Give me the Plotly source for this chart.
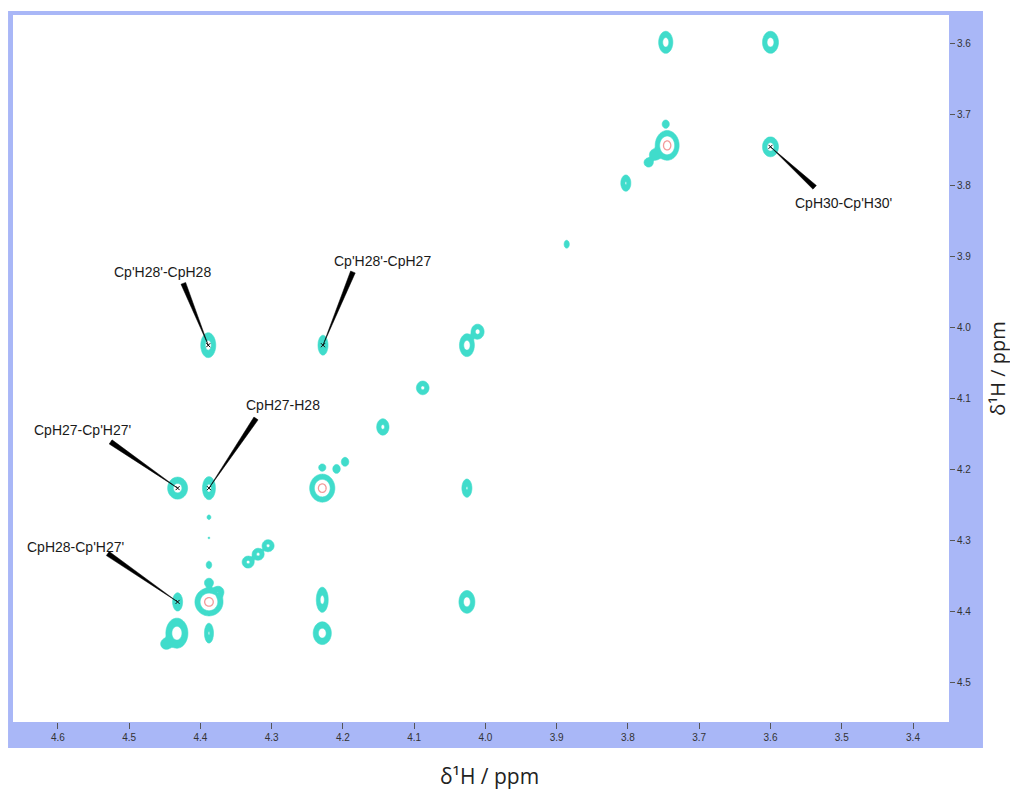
import numpy as np
import plotly.graph_objects as go

# ---------------- data (ppm) ----------------
# 2D cross/diagonal peaks: position (F2 = x, F1 = y), widths, intensity
peak_x = [3.747, 3.600, 3.745, 3.762, 3.771, 3.747, 3.600, 3.803, 3.886,
          4.026, 4.011, 4.088, 4.144,
          4.389, 4.228,
          4.432, 4.388, 4.229, 4.209, 4.197, 4.229, 4.026,
          4.388, 4.388, 4.388,
          4.333, 4.319, 4.305,
          4.432, 4.388, 4.388, 4.375, 4.229, 4.026,
          4.433, 4.448, 4.388, 4.229]
peak_y = [3.599, 3.599, 3.744, 3.757, 3.768, 3.714, 3.746, 3.797, 3.883,
          4.025, 4.006, 4.085, 4.140,
          4.025, 4.025,
          4.226, 4.226, 4.226, 4.199, 4.189, 4.197, 4.226,
          4.267, 4.296, 4.334,
          4.330, 4.319, 4.307,
          4.386, 4.386, 4.359, 4.372, 4.383, 4.386,
          4.430, 4.445, 4.430, 4.430]
peak_sx = [0.0039, 0.0044, 0.0057, 0.0035, 0.0030, 0.0025, 0.0044, 0.0030, 0.0020,
           0.0041, 0.0037, 0.0037, 0.0036,
           0.0042, 0.0030,
           0.0055, 0.0037, 0.0060, 0.0025, 0.0025, 0.0025, 0.0030,
           0.0018, 0.0015, 0.0022,
           0.0035, 0.0035, 0.0035,
           0.0030, 0.0067, 0.0030, 0.0035, 0.0034, 0.0044,
           0.0060, 0.0035, 0.0027, 0.0050]
peak_sy = [0.0061, 0.0061, 0.0071, 0.0035, 0.0030, 0.0028, 0.0055, 0.0049, 0.0031,
           0.0063, 0.0043, 0.0040, 0.0048,
           0.0070, 0.0060,
           0.0061, 0.0066, 0.0067, 0.0030, 0.0030, 0.0025, 0.0055,
           0.0022, 0.0015, 0.0030,
           0.0035, 0.0035, 0.0035,
           0.0055, 0.0067, 0.0030, 0.0035, 0.0072, 0.0063,
           0.0082, 0.0035, 0.0060, 0.0063]
peak_amp = [1.0, 1.0, 3.0, 0.5, 0.4, 0.3, 1.0, 0.6, 0.2,
            1.0, 0.8, 0.7, 0.7,
            0.9, 0.6,
            1.0, 0.8, 3.0, 0.35, 0.35, 0.3, 0.6,
            0.12, 0.06, 0.18,
            0.7, 0.7, 0.7,
            0.6, 3.0, 0.35, 0.5, 0.8, 1.0,
            1.1, 0.45, 0.6, 1.0]

# assignments
label_text = ["Cp'H28'-CpH28", "Cp'H28'-CpH27", "CpH27-Cp'H27'",
              "CpH27-H28", "CpH28-Cp'H27'", "CpH30-Cp'H30'"]
label_x = [4.4526, 4.145, 4.565, 4.284, 4.576, 3.498]
label_y = [3.922, 3.9066, 4.144, 4.109, 4.309, 3.825]
pointer_base_x = [4.424, 4.186, 4.526, 4.322, 4.530, 3.538]
pointer_base_y = [3.938, 3.922, 4.161, 4.128, 4.318, 3.803]
pointer_tip_x = [4.389, 4.228, 4.432, 4.388, 4.432, 3.600]
pointer_tip_y = [4.025, 4.025, 4.226, 4.226, 4.386, 3.746]

x_ticks = [4.6, 4.5, 4.4, 4.3, 4.2, 4.1, 4.0, 3.9, 3.8, 3.7, 3.6, 3.5, 3.4]
y_ticks = [3.6, 3.7, 3.8, 3.9, 4.0, 4.1, 4.2, 4.3, 4.4, 4.5]
x_range = [4.663, 3.3495]
y_range = [4.5549, 3.5606]

TURQ = "#40DCCB"
PINK = "#F29A9A"
FRAME = "#A9B7F7"

# ---------------- spectrum grid ----------------
gx = np.arange(3.565, 4.47, 0.0011)
gy = np.arange(3.565, 4.47, 0.0011)
GX, GY = np.meshgrid(gx, gy)
Z = np.zeros_like(GX)
for x0, y0, sx, sy, a in zip(peak_x, peak_y, peak_sx, peak_sy, peak_amp):
    Z += a * np.exp(-((GX - x0) ** 2 / (2 * sx ** 2) + (GY - y0) ** 2 / (2 * sy ** 2)))
Z = Z.astype(np.float32)

fig = go.Figure()

# constraint fills the region *outside* the feasible set, so ")(" shades [lo, hi]
fig.add_trace(go.Contour(
    x=gx, y=gy, z=Z,
    contours=dict(type="constraint", operation=")(", value=[0.04, 0.55]),
    fillcolor=TURQ, line=dict(color=TURQ, width=0.6),
    showscale=False, hoverinfo="skip"))

fig.add_trace(go.Contour(
    x=gx, y=gy, z=Z,
    contours=dict(type="constraint", operation="=", value=2.0),
    line=dict(color=PINK, width=1.3),
    showscale=False, hoverinfo="skip"))

# tapered pointers
half_w = 0.0035
for bx, by, tx, ty in zip(pointer_base_x, pointer_base_y, pointer_tip_x, pointer_tip_y):
    dx, dy = tx - bx, ty - by
    n = np.hypot(dx, dy)
    nx, ny = -dy / n * half_w, dx / n * half_w
    fig.add_trace(go.Scatter(
        x=[bx + nx, bx - nx, tx, bx + nx], y=[by + ny, by - ny, ty, by + ny],
        mode="lines", fill="toself", fillcolor="black",
        line=dict(color="black", width=0.5), hoverinfo="skip"))

fig.add_trace(go.Scatter(
    x=pointer_tip_x, y=pointer_tip_y, mode="markers",
    marker=dict(symbol="x-thin", size=4, line=dict(color="black", width=1)),
    hoverinfo="skip"))

for t, lx, ly in zip(label_text, label_x, label_y):
    fig.add_annotation(x=lx, y=ly, text=t, showarrow=False,
                       xanchor="center", yanchor="middle",
                       font=dict(family="Liberation Sans", size=14, color="#1a1a1a"))

# axis titles
fig.add_annotation(xref="paper", yref="paper", x=0.5096, y=-0.0764,
                   xanchor="center", yanchor="middle",
                   text="δ¹H / ppm", showarrow=False,
                   font=dict(family="Open Sans", size=21, color="#222"))
fig.add_annotation(xref="paper", yref="paper", x=1.0515, y=0.5, textangle=-90,
                   xanchor="center", yanchor="middle",
                   text="δ¹H / ppm", showarrow=False,
                   font=dict(family="Open Sans", size=20, color="#222"))

# frame + white plotting area
fig.add_shape(type="rect", xref="paper", yref="paper",
              x0=-0.0053, x1=1.0363, y0=-0.0368, y1=1.0057,
              fillcolor=FRAME, line=dict(width=0), layer="below")
fig.add_shape(type="rect", xref="paper", yref="paper",
              x0=0, x1=1, y0=0, y1=1,
              fillcolor="white", line=dict(width=0), layer="below")

tickfont = dict(family="Liberation Sans", size=10, color="#333")
fig.update_layout(
    width=1018, height=795,
    # page body has an 8px margin, so the figure is offset by 8px
    margin=dict(l=5, r=77, t=7, b=81),
    paper_bgcolor="white", plot_bgcolor="white",
    showlegend=False,
    xaxis=dict(range=x_range, tickvals=x_ticks, ticktext=[f"{v:.1f}" for v in x_ticks],
               ticks="outside", ticklen=6, tickcolor="#555", tickwidth=1,
               showgrid=False, zeroline=False, showline=False, tickfont=tickfont),
    yaxis=dict(range=y_range, tickvals=y_ticks, ticktext=[f"{v:.1f}" for v in y_ticks],
               side="right", ticks="outside", ticklen=5, tickcolor="#555", tickwidth=1,
               showgrid=False, zeroline=False, showline=False, tickfont=tickfont),
)

fig.write_html("out.html")
